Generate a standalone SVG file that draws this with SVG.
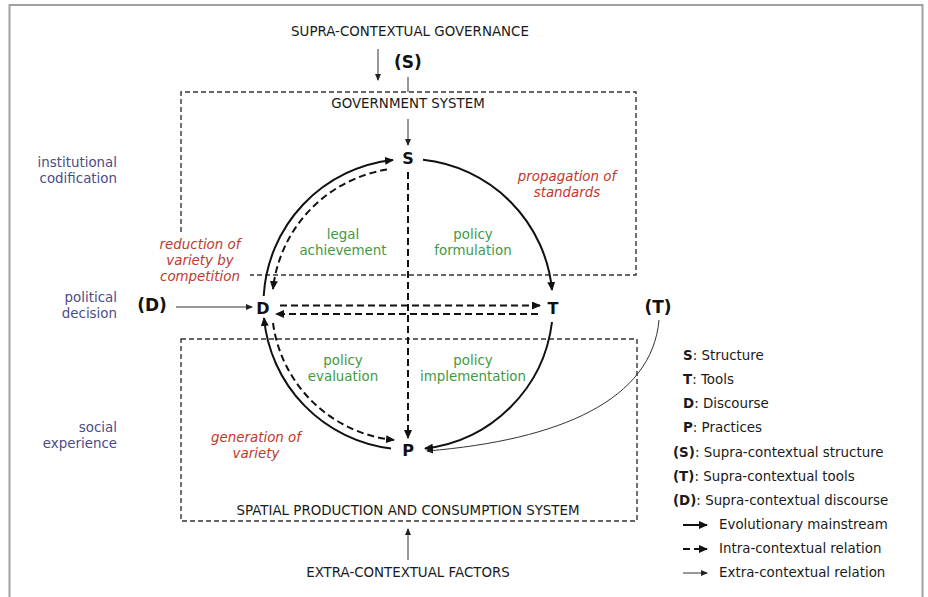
<svg xmlns="http://www.w3.org/2000/svg" width="928" height="597" viewBox="0 0 928 597">
<defs>
<marker id="ah" markerUnits="userSpaceOnUse" markerWidth="9" markerHeight="8" refX="8" refY="4" orient="auto"><path d="M0,0 L9,4 L0,8 z" fill="#111"/></marker>
<marker id="ahs" markerUnits="userSpaceOnUse" markerWidth="7" markerHeight="6" refX="6" refY="3" orient="auto"><path d="M0,0 L7,3 L0,6 z" fill="#222"/></marker>
<style>
text{font-family:"DejaVu Sans","Verdana",sans-serif;font-size:13.4px;fill:#1a1a1a}
.c{text-anchor:middle}
.r{text-anchor:end}
.b{font-weight:bold}
.n{font-weight:bold;font-size:16px;text-anchor:middle;fill:#111}
.side{fill:#4b4c88;text-anchor:end}
.red{fill:#c0392b;font-style:italic;text-anchor:middle}
.grn{fill:#3e9a3e;text-anchor:middle}
.box{fill:none;stroke:#333;stroke-width:1.4;stroke-dasharray:5 3}
.main{fill:none;stroke:#111;stroke-width:2;marker-end:url(#ah)}
.intra{fill:none;stroke:#111;stroke-width:2;stroke-dasharray:7 4;marker-end:url(#ah)}
.extra{fill:none;stroke:#333;stroke-width:1;marker-end:url(#ahs)}
.frame{fill:none;stroke:#a0a0a0;stroke-width:2}
</style>
</defs>
<rect width="928" height="597" fill="#fff"/>
<path class="frame" d="M9.5,597 V5 H922.5 V597"/>

<g id="boxes">
<path class="box" d="M181,232 V92 H636 V275 H250"/>
<path class="box" d="M181,339 H637 V521 H181 Z"/>
</g>

<g id="headings">
<text class="c" x="410" y="36">SUPRA-CONTEXTUAL GOVERNANCE</text>
<text class="c" x="408" y="108">GOVERNMENT SYSTEM</text>
<text class="c" x="408" y="515">SPATIAL PRODUCTION AND CONSUMPTION SYSTEM</text>
<text class="c" x="408" y="577">EXTRA-CONTEXTUAL FACTORS</text>
</g>

<g id="side-labels">
<text class="side" x="117" y="167">institutional</text>
<text class="side" x="117" y="183">codification</text>
<text class="side" x="117" y="302">political</text>
<text class="side" x="117" y="318">decision</text>
<text class="side" x="117" y="432">social</text>
<text class="side" x="117" y="448">experience</text>
</g>

<g id="process-labels">
<text class="red" x="200" y="249">reduction of</text>
<text class="red" x="200" y="265">variety by</text>
<text class="red" x="200" y="281">competition</text>
<text class="red" x="567" y="181">propagation of</text>
<text class="red" x="567" y="197">standards</text>
<text class="red" x="256" y="442">generation of</text>
<text class="red" x="256" y="458">variety</text>
<text class="grn" x="343" y="239">legal</text>
<text class="grn" x="343" y="255">achievement</text>
<text class="grn" x="473" y="239">policy</text>
<text class="grn" x="473" y="255">formulation</text>
<text class="grn" x="343" y="365">policy</text>
<text class="grn" x="343" y="381">evaluation</text>
<text class="grn" x="473" y="365">policy</text>
<text class="grn" x="473" y="381">implementation</text>
</g>

<g id="node-S"><text class="n" x="408" y="164">S</text></g>
<g id="node-D"><text class="n" x="263" y="314">D</text></g>
<g id="node-T"><text class="n" x="553" y="314">T</text></g>
<g id="node-P"><text class="n" x="408" y="456">P</text></g>
<g id="node-supraS"><text class="n" x="408" y="68" style="font-size:17px">(S)</text></g>
<g id="node-supraD"><text class="n" x="152" y="311" style="font-size:17px">(D)</text></g>
<g id="node-supraT"><text class="n" x="658" y="313" style="font-size:17px">(T)</text></g>

<g id="connectors">
<line class="extra" x1="378" y1="49" x2="378" y2="80"/>
<line x1="408" y1="77" x2="408" y2="92" stroke="#333" stroke-width="1"/>
<line class="extra" x1="408" y1="119" x2="408" y2="145"/>
<line class="extra" x1="408" y1="560" x2="408" y2="529"/>
<line class="extra" x1="176" y1="307" x2="252" y2="307"/>
<path class="extra" d="M659,320 C652,400 560,440 427,451" stroke="#888"/>
<path class="main" d="M263.7,296 A145,145 0 0 1 393,160"/>
<path class="main" d="M423,159.8 A145,145 0 0 1 552,290"/>
<path class="main" d="M552,322 A145,145 0 0 1 425,448.5"/>
<path class="main" d="M391,448.5 A145,145 0 0 1 264,318"/>
<path class="intra" d="M387,169.6 A136,136 0 0 0 273,289"/>
<path class="intra" d="M273,323 A136,136 0 0 0 394,440"/>
<line class="intra" x1="408" y1="172" x2="408" y2="438"/>
<line class="intra" x1="280" y1="305.5" x2="540" y2="305.5"/>
<line class="intra" x1="538" y1="314" x2="276" y2="314"/>
</g>

<g id="legend">
<text x="683" y="360"><tspan class="b">S</tspan>: Structure</text>
<text x="683" y="384"><tspan class="b">T</tspan>: Tools</text>
<text x="683" y="408"><tspan class="b">D</tspan>: Discourse</text>
<text x="683" y="432"><tspan class="b">P</tspan>: Practices</text>
<text x="673" y="457"><tspan class="b">(S)</tspan>: Supra-contextual structure</text>
<text x="673" y="481"><tspan class="b">(T)</tspan>: Supra-contextual tools</text>
<text x="673" y="505"><tspan class="b">(D)</tspan>: Supra-contextual discourse</text>
<line class="main" x1="683" y1="525" x2="707" y2="525"/>
<text x="719" y="529">Evolutionary mainstream</text>
<line x1="683" y1="549" x2="690" y2="549" stroke="#111" stroke-width="2"/>
<line class="main" x1="694" y1="549" x2="707" y2="549"/>
<text x="719" y="553">Intra-contextual relation</text>
<line class="extra" x1="683" y1="573" x2="707" y2="573"/>
<text x="719" y="577">Extra-contextual relation</text>
</g>
</svg>
